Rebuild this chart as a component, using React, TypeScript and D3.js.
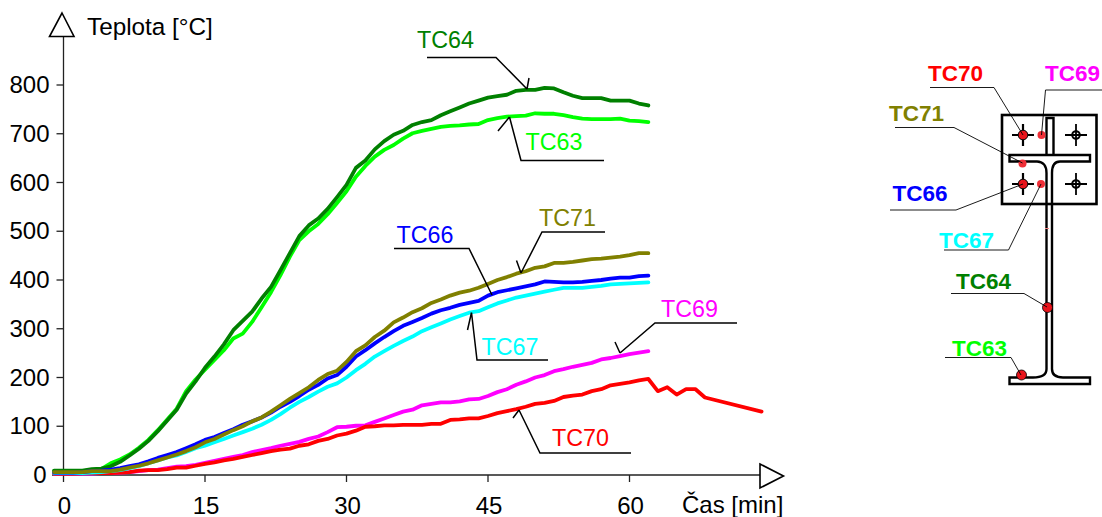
import React, { useEffect, useRef } from "react";
import * as d3 from "d3";

const xTicks = [0, 15, 30, 45, 60];
const yTicks = [0, 100, 200, 300, 400, 500, 600, 700, 800];
const firstMinute = -1;

// one reading per minute, from minute -1 to minute 62
const tc63 = [8,8,8,8,10,12,24,32,42,56,72,92,114,136,172,196,216,236,256,280,290,314,344,375,410,448,482,500,515,535,558,582,612,634,653,667,677,690,701,706,710,714,716,717,719,720,728,732,735,736,737,742,741,741,738,734,731,730,730,730,731,727,726,724];
const tc64 = [9,9,9,9,12,13,18,27,40,54,70,90,112,134,167,192,220,243,268,297,316,335,362,386,420,455,490,512,526,546,570,595,630,645,668,685,698,706,718,724,728,738,746,754,762,768,774,777,780,788,790,790,794,793,785,778,773,773,773,768,768,768,762,758];
const tc66 = [5,5,5,6,8,9,11,14,18,22,28,35,41,47,55,63,72,78,86,94,103,110,118,128,140,150,162,175,185,198,205,222,243,256,270,283,295,306,314,322,331,338,343,349,353,357,368,375,379,383,387,391,397,396,395,395,396,398,400,403,405,405,408,409];
const tc67 = [4,4,4,4,5,6,8,10,14,18,24,30,36,40,47,55,60,67,74,81,88,95,103,113,125,138,150,160,171,181,188,200,215,228,243,254,265,275,284,295,303,311,319,326,333,336,344,352,358,364,368,372,376,380,384,384,384,386,388,391,392,393,394,395];
const tc69 = [3,3,3,3,3,4,4,5,6,8,10,11,14,17,18,21,25,29,33,37,41,47,51,55,60,64,68,74,79,88,98,99,101,102,109,116,123,130,134,143,146,149,149,151,155,156,162,170,176,185,192,200,205,213,217,222,226,230,237,240,244,248,251,254];
const tc70 = [3,3,3,4,4,4,4,5,6,9,10,10,12,15,15,19,23,26,30,33,37,41,45,49,52,54,60,63,70,74,81,85,91,99,100,102,102,103,103,103,105,105,113,114,116,116,121,127,131,135,140,146,148,152,160,163,165,172,176,184,187,190,194,197];
const tc71 = [6,6,6,6,8,8,8,11,15,19,24,30,36,42,49,57,67,74,83,92,100,110,118,130,143,156,168,180,195,207,214,232,254,266,283,296,313,323,334,342,353,360,368,374,378,384,392,400,406,413,418,425,428,435,435,437,440,443,444,446,448,451,455,455];

// TC70 keeps going after the others stop
const tc70TailMinutes = [63, 64, 65, 66, 67, 68, 74];
const tc70Tail = [172, 180, 165, 176, 176, 159, 130];

const GREEN = "#008000", LIME = "#00ff00", BLUE = "#0000ff", CYAN = "#00ffff";
const MAGENTA = "#ff00ff", RED = "#ff0000", OLIVE = "#808000";
const FONT = "'Liberation Sans', Arial, sans-serif";

const toPoints = (vals: number[]): [number, number][] =>
  vals.map((v, i) => [firstMinute + i, v]);

// draw order matters, the later ones sit on top
const series: { name: string; color: string; pts: [number, number][] }[] = [
  { name: "TC63", color: LIME, pts: toPoints(tc63) },
  { name: "TC64", color: GREEN, pts: toPoints(tc64) },
  { name: "TC69", color: MAGENTA, pts: toPoints(tc69) },
  {
    name: "TC70",
    color: RED,
    pts: [...toPoints(tc70), ...tc70TailMinutes.map((m, i): [number, number] => [m, tc70Tail[i]])],
  },
  { name: "TC67", color: CYAN, pts: toPoints(tc67) },
  { name: "TC66", color: BLUE, pts: toPoints(tc66) },
  { name: "TC71", color: OLIVE, pts: toPoints(tc71) },
];

// labels on the chart with their leader and one arrow barb
const callouts = [
  { text: "TC64", color: GREEN, tx: 417, ty: 48, line: [[427, 57.5], [496, 57.5], [527, 89]], barb: [529, 78] },
  { text: "TC63", color: LIME, tx: 525.5, ty: 150, line: [[604, 160.5], [521, 160.5], [509.5, 117]], barb: [498, 131] },
  { text: "TC71", color: OLIVE, tx: 539, ty: 226, line: [[605, 232], [542, 232], [521, 273]], barb: [516.5, 260.5] },
  { text: "TC66", color: BLUE, tx: 396.5, ty: 243, line: [[394, 248.5], [469, 248.5], [492, 295]], barb: [492, 295] },
  { text: "TC67", color: CYAN, tx: 481.5, ty: 355, line: [[548, 360], [477, 360], [471.5, 312.5]], barb: [467.5, 330] },
  { text: "TC69", color: MAGENTA, tx: 661, ty: 316.5, line: [[737, 323], [655, 323], [620, 353]], barb: [615, 342] },
  { text: "TC70", color: RED, tx: 552, ty: 446, line: [[631, 453], [540, 453], [519, 410]], barb: [513, 418] },
];

// labels on the cross section
const sectionLabels = [
  { text: "TC70", color: RED, tx: 928, ty: 80.5, line: [[930, 87.5], [994, 87.5], [1023, 135]] },
  { text: "TC69", color: MAGENTA, tx: 1045, ty: 80.5, line: [[1102, 90], [1045.5, 90], [1041.5, 135]] },
  { text: "TC71", color: OLIVE, tx: 889, ty: 120.5, line: [[895, 127.5], [954, 127.5], [1022.5, 163]] },
  { text: "TC66", color: BLUE, tx: 892.5, ty: 201, line: [[890, 210], [956, 210], [1023, 184]] },
  { text: "TC67", color: CYAN, tx: 939, ty: 247.5, line: [[944, 250], [1008.5, 250], [1041, 184]] },
  { text: "TC64", color: GREEN, tx: 956, ty: 289, line: [[951, 293.5], [1024, 293.5], [1047, 307]] },
  { text: "TC63", color: LIME, tx: 952, ty: 355.5, line: [[945, 357.5], [1011, 357.5], [1021, 375]] },
];

const App = () => {
  const svgEl = useRef<SVGSVGElement>(null);

  useEffect(() => {
    const svg = d3.select(svgEl.current);
    svg.selectAll("*").remove();

    const xScale = d3.scaleLinear().domain([0, 60]).range([63.5, 629.5]);
    const yScale = d3.scaleLinear().domain([0, 800]).range([475, 85]);

    const line = d3
      .line<[number, number]>()
      .x((d) => xScale(d[0]))
      .y((d) => yScale(d[1]));

    const plain = d3.line();

    // axes
    const axes = svg.append("g").attr("stroke", "#222").attr("stroke-width", 1.3);
    axes.append("line").attr("x1", 63.5).attr("x2", 63.5).attr("y1", 36).attr("y2", 475);
    axes.append("line").attr("x1", 52).attr("x2", 760).attr("y1", 475).attr("y2", 475);

    axes
      .selectAll(".ytick")
      .data(yTicks.filter((d) => d > 0))
      .enter()
      .append("line")
      .attr("x1", 56.5)
      .attr("x2", 63.5)
      .attr("y1", (d) => yScale(d))
      .attr("y2", (d) => yScale(d));

    axes
      .selectAll(".xtick")
      .data(xTicks)
      .enter()
      .append("line")
      .attr("x1", (d) => xScale(d))
      .attr("x2", (d) => xScale(d))
      .attr("y1", 475)
      .attr("y2", 482);

    const arrows = svg.append("g").attr("fill", "#fff").attr("stroke", "#000").attr("stroke-width", 1.6);
    arrows.append("path").attr("d", "M62,13L74,36.5L49.5,36.5Z");
    arrows.append("path").attr("d", "M760,464L783.5,476L760,488Z");

    const labels = svg.append("g").attr("font-family", FONT).attr("font-size", 24).attr("fill", "#000");
    labels
      .selectAll(".ylab")
      .data(yTicks)
      .enter()
      .append("text")
      .attr("x", (d) => (d === 0 ? 46.5 : 49.5))
      .attr("y", (d) => yScale(d) + 8)
      .attr("text-anchor", "end")
      .text((d) => d);
    labels
      .selectAll(".xlab")
      .data(xTicks)
      .enter()
      .append("text")
      .attr("x", (d) => xScale(d) + 1)
      .attr("y", 513.5)
      .attr("text-anchor", "middle")
      .text((d) => d);
    labels.append("text").attr("x", 87).attr("y", 35).attr("font-size", 24.3).text("Teplota [°C]");
    labels.append("text").attr("x", 682).attr("y", 513).text("Čas [min]");

    // temperature curves
    svg
      .selectAll(".curve")
      .data(series)
      .enter()
      .append("path")
      .attr("class", "curve")
      .attr("fill", "none")
      .attr("stroke", (d) => d.color)
      .attr("stroke-width", 3.8)
      .attr("stroke-linejoin", "round")
      .attr("stroke-linecap", "round")
      .attr("d", (d) => line(d.pts));

    // leaders on the chart
    callouts.forEach((c) => {
      const tip = c.line[c.line.length - 1];
      svg
        .append("path")
        .attr("d", plain(c.line as [number, number][]) + "M" + tip[0] + "," + tip[1] + "L" + c.barb[0] + "," + c.barb[1])
        .attr("fill", "none")
        .attr("stroke", "#000")
        .attr("stroke-width", 1.5);
      svg
        .append("text")
        .attr("x", c.tx)
        .attr("y", c.ty)
        .attr("font-family", FONT)
        .attr("font-size", 23.3)
        .attr("fill", c.color)
        .text(c.text);
    });

    // cross section
    const sec = svg.append("g").attr("fill", "none").attr("stroke", "#000");
    sec.append("rect").attr("x", 1002).attr("y", 115).attr("width", 94.5).attr("height", 89).attr("stroke-width", 2.6);
    sec
      .append("path")
      .attr("stroke-width", 2.4)
      .attr("d",
        "M1046.5,155V118H1053.5V155M1009.5,155H1090V161.5H1060C1054,161.5 1052,166 1052,173V369C1052,375 1056,377.5 1063,377.5H1090V384H1009.5V377.5H1033C1042,377.5 1046.5,375 1046.5,369V173C1046.5,166 1043,161.5 1037,161.5H1009.5Z"
      );

    const bolts = [
      [1023, 135, true],
      [1076, 135, false],
      [1023, 184, true],
      [1076, 184, false],
    ] as [number, number, boolean][];
    bolts.forEach(([cx, cy, hit]) => {
      sec
        .append("circle")
        .attr("cx", cx)
        .attr("cy", cy)
        .attr("r", hit ? 4.8 : 3.8)
        .attr("fill", hit ? "#e8141c" : "#fff")
        .attr("stroke-width", hit ? 1 : 2);
      const cross = sec
        .append("path")
        .attr("stroke-width", 2.2)
        .attr("d", hit
          ? `M${cx - 11},${cy}H${cx - 4.8}M${cx + 4.8},${cy}H${cx + 11}M${cx},${cy - 11}V${cy - 4.8}M${cx},${cy + 4.8}V${cy + 11}`
          : `M${cx - 11},${cy}H${cx + 11}M${cx},${cy - 11}V${cy + 11}`);
      if (!hit) cross.attr("stroke-width", 1.8);
    });

    // small stray mark on the web
    svg.append("line").attr("x1", 1045).attr("x2", 1049).attr("y1", 228.5).attr("y2", 228.5).attr("stroke", "#f08080").attr("stroke-width", 1);

    const sensors = [
      [1041.5, 135, 4],
      [1022.5, 163.5, 4],
      [1041, 184, 4],
    ];
    sensors.forEach(([cx, cy, r]) => {
      svg.append("circle").attr("cx", cx).attr("cy", cy).attr("r", r).attr("fill", "#f03038");
    });
    [
      [1047.5, 307.5],
      [1021.5, 375],
    ].forEach(([cx, cy]) => {
      svg
        .append("circle")
        .attr("cx", cx)
        .attr("cy", cy)
        .attr("r", 5)
        .attr("fill", "#e8141c")
        .attr("stroke", "#000")
        .attr("stroke-width", 0.8);
    });

    sectionLabels.forEach((c) => {
      svg
        .append("path")
        .attr("d", plain(c.line as [number, number][]))
        .attr("fill", "none")
        .attr("stroke", "#000")
        .attr("stroke-width", 0.9);
      svg
        .append("text")
        .attr("x", c.tx)
        .attr("y", c.ty)
        .attr("font-family", FONT)
        .attr("font-weight", "bold")
        .attr("font-size", 22.5)
        .attr("fill", c.color)
        .text(c.text);
    });
  }, [svgEl]);

  return (
    <svg
      ref={svgEl}
      width={1102}
      height={517}
      style={{ position: "absolute", left: 0, top: 0, background: "#fff" }}
    ></svg>
  );
};

export default App;
